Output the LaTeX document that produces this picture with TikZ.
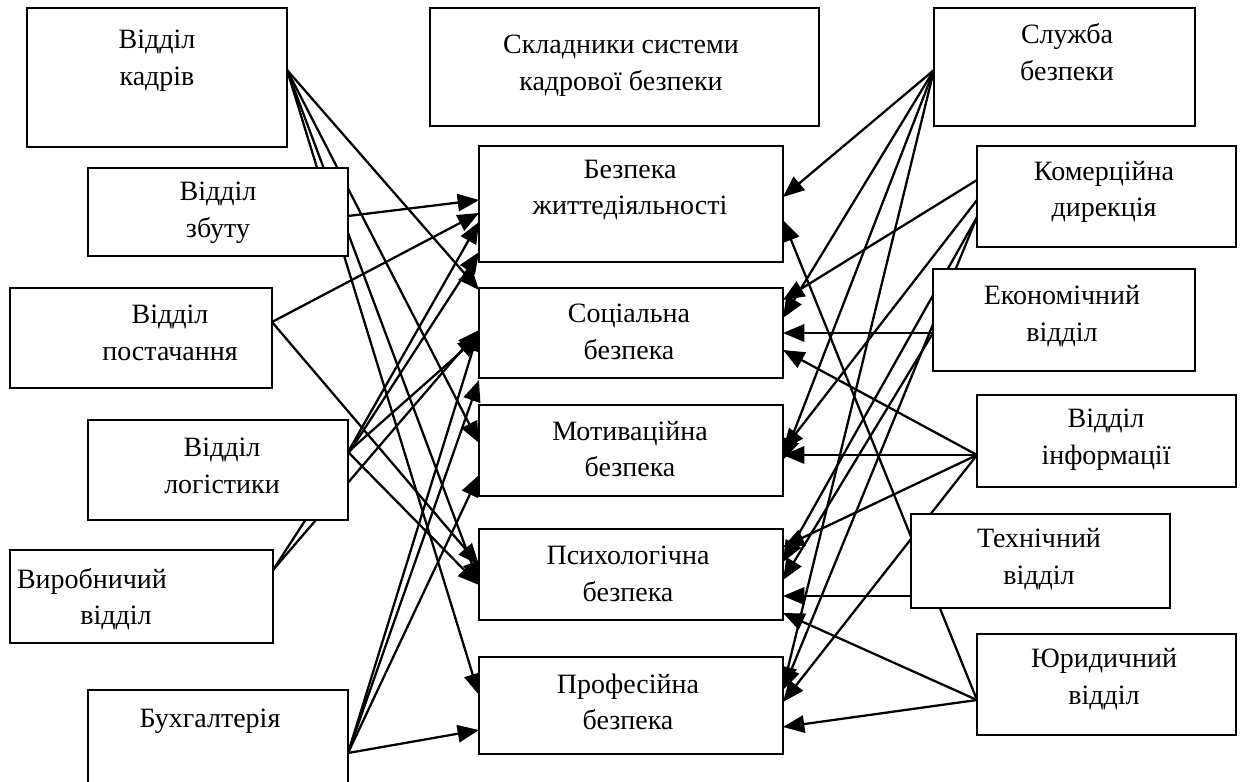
\documentclass[tikz,border=0pt]{standalone}
\usepackage{fontspec}
\setmainfont{Liberation Serif}
\usetikzlibrary{arrows.meta,fit}
\pgfdeclarelayer{paper}
\pgfdeclarelayer{links}
\pgfsetlayers{paper,links,main}
\begin{document}
\begin{tikzpicture}[x=0.75pt,y=-0.75pt,
  box/.style={draw,line width=1.3pt,fill=white,inner sep=0pt,outer sep=0pt},
  lbl/.style={align=center,font=\fontsize{21}{27.5}\selectfont,inner sep=0pt},
  link/.style={line width=1.7pt,-{Triangle[length=16pt,width=13pt]}}]
\useasboundingbox (0,0) rectangle (1241,781);
\clip (0,0) rectangle (1241,781);
\begin{pgfonlayer}{paper}
\fill[white] (0,0) rectangle (1241,781);
\end{pgfonlayer}

% departments on the left
\node[box,fit={(27,8) (287,147)}]   (kadriv)  {};
\node[box,fit={(88,168) (348,256)}] (zbut)    {};
\node[box,fit={(10,288) (272,388)}] (postach) {};
\node[box,fit={(88,420) (348,520)}] (logist)  {};
\node[box,fit={(10,550) (273,643)}] (vyrob)   {};
\node[box,fit={(88,690) (348,800)}] (buh)     {};

% components of personnel security
\node[box,fit={(430,8) (819,126)}]   (title) {};
\node[box,fit={(479,146) (783,262)}] (bzh)   {};
\node[box,fit={(479,288) (783,378)}] (soc)   {};
\node[box,fit={(479,405) (783,496)}] (motiv) {};
\node[box,fit={(479,529) (783,620)}] (psych) {};
\node[box,fit={(479,657) (783,754)}] (prof)  {};

% departments on the right
\node[box,fit={(934,8) (1195,126)}]   (sluzh)  {};
\node[box,fit={(977,146) (1236,247)}] (komerc) {};
\node[box,fit={(933,269) (1195,371)}] (ekon)   {};
\node[box,fit={(977,395) (1236,487)}] (inform) {};
\node[box,fit={(911,514) (1170,608)}] (tech)   {};
\node[box,fit={(977,634) (1236,735)}] (yur)    {};

% labels
\node[lbl] (kadrivT)  at (157,61)  {Відділ\\кадрів};
\node[lbl] (zbutT)    at (218,213) {Відділ\\збуту};
\node[lbl] (postachT) at (170,333) {Відділ\\постачання};
\node[lbl] (logistT)  at (222,466) {Відділ\\логістики};
\node[lbl] (vyrobT)   at (92,581)  {Виробничий};
\node[lbl] (vyrobTb)  at (116,618) {відділ};
\node[lbl] (buhT)     at (210,721) {Бухгалтерія};

\node[lbl] (titleT) at (621,66)  {Складники системи\\кадрової безпеки};
\node[lbl] (bzhT)   at (630,190) {Безпека\\життедіяльності};
\node[lbl] (socT)   at (629,332) {Соціальна\\безпека};
\node[lbl] (motivT) at (630,449) {Мотиваційна\\безпека};
\node[lbl] (psychT) at (628,574) {Психологічна\\безпека};
\node[lbl] (profT)  at (628,702) {Професійна\\безпека};

\node[lbl] (sluzhT)  at (1067,52)  {Служба\\безпеки};
\node[lbl] (komercT) at (1104,192) {Комерційна\\дирекція};
\node[lbl] (ekonT)   at (1062,316) {Економічний\\відділ};
\node[lbl] (informT) at (1106,440) {Відділ\\інформації};
\node[lbl] (techT)   at (1039,559) {Технічний\\відділ};
\node[lbl] (yurT)    at (1104,679) {Юридичний\\відділ};

\begin{pgfonlayer}{links}
% left-hand links
\draw[link] (kadriv.east |- 0,70) -- (soc.west |- 0,290);
\draw[link] (kadriv.east |- 0,70) -- (motiv.west |- 0,443);
\draw[link] (kadriv.east |- 0,70) -- (psych.west |- 0,583);
\draw[link] (kadriv.east |- 0,70) -- (prof.west |- 0,695);
\draw[link] (zbut.east |- 0,216) -- (bzh.west |- 0,200);
\draw[link] (postach.east |- 0,322) -- (bzh.west |- 0,213);
\draw[link] (postach.east |- 0,322) -- (psych.west |- 0,565);
\draw[link] (logist.east |- 0,452) -- (bzh.west |- 0,222);
\draw[link] (logist.east |- 0,452) -- (soc.west |- 0,336);
\draw[link] (logist.east |- 0,452) -- (psych.west |- 0,585);
\draw[link] (vyrob.east |- 0,570) -- (bzh.west |- 0,252);
\draw[link] (vyrob.east |- 0,570) -- (soc.west |- 0,330);
\draw[link] (buh.east |- 0,753) -- (soc.west |- 0,330);
\draw[link] (buh.east |- 0,753) -- (soc.west |- 0,380);
\draw[link] (buh.east |- 0,753) -- (motiv.west |- 0,475);
\draw[link] (buh.east |- 0,753) -- (prof.west |- 0,730);
% right-hand links
\draw[link] (sluzh.west |- 0,70) -- (bzh.east |- 0,197);
\draw[link] (sluzh.west |- 0,70) -- (soc.east |- 0,318);
\draw[link] (sluzh.west |- 0,70) -- (motiv.east |- 0,460);
\draw[link] (sluzh.west |- 0,70) -- (prof.east |- 0,688);
\draw[link] (komerc.west |- 0,180) -- (soc.east |- 0,300);
\draw[link] (komerc.west |- 0,200) -- (motiv.east |- 0,450);
\draw[link] (komerc.west |- 0,217) -- (psych.east |- 0,562);
\draw[link] (komerc.west |- 0,217) -- (prof.east |- 0,690);
\draw[link] (ekon.west |- 0,333) -- (soc.east |- 0,333);
\draw[link] (ekon.west |- 0,333) -- (psych.east |- 0,580);
\draw[link] (inform.west |- 0,455) -- (soc.east |- 0,350);
\draw[link] (inform.west |- 0,455) -- (motiv.east |- 0,455);
\draw[link] (inform.west |- 0,455) -- (psych.east |- 0,547);
\draw[link] (inform.west |- 0,455) -- (prof.east |- 0,702);
\draw[link] (tech.west |- 0,596) -- (psych.east |- 0,596);
\draw[link] (yur.west |- 0,700) -- (bzh.east |- 0,220);
\draw[link] (yur.west |- 0,700) -- (psych.east |- 0,613);
\draw[link] (yur.west |- 0,700) -- (prof.east |- 0,727);
\end{pgfonlayer}
\end{tikzpicture}
\end{document}
